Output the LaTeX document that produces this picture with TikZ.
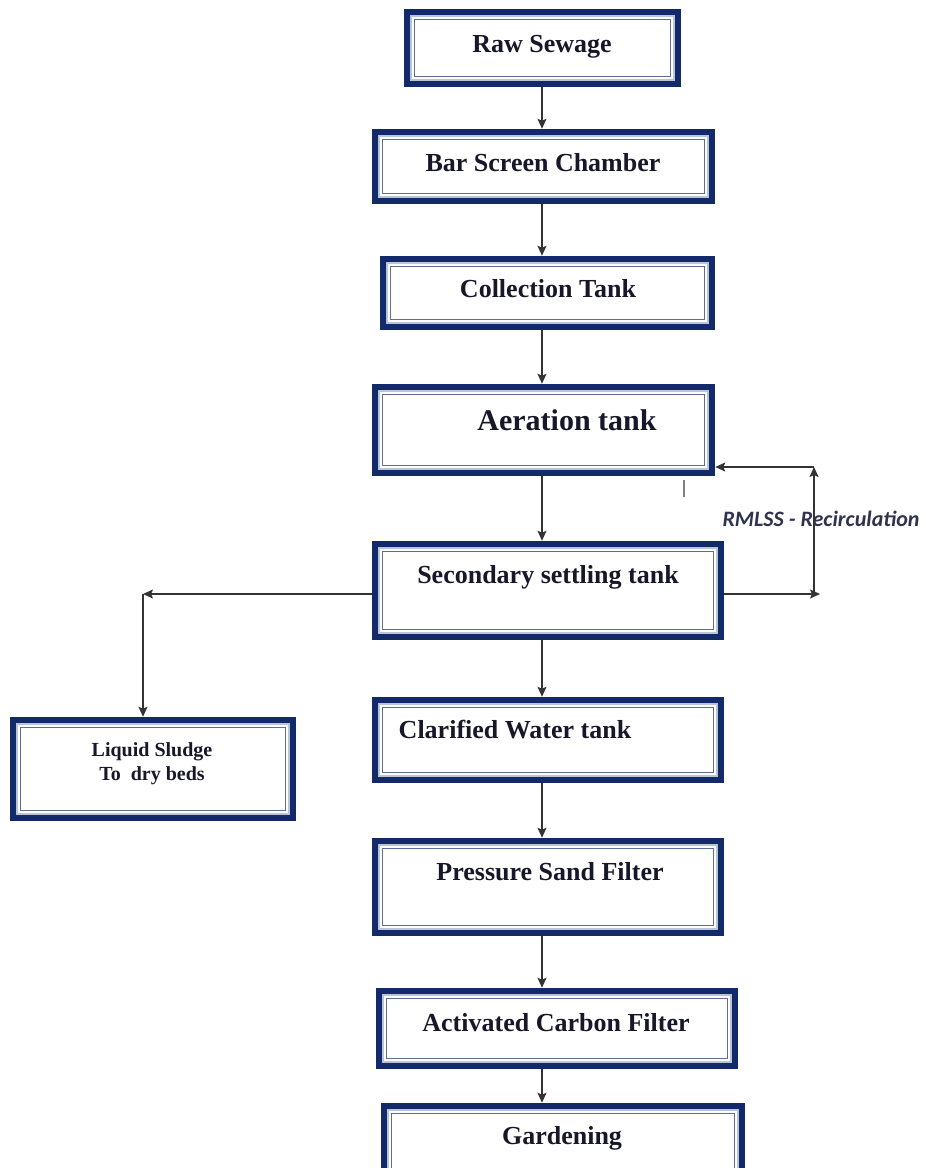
\documentclass[tikz,border=0pt]{standalone}
\usepackage{fontspec}
\setmainfont{Liberation Serif}
\newfontfamily\lblfont{Carlito}
\usetikzlibrary{arrows.meta}
\definecolor{navy}{HTML}{12296A}
\definecolor{paleb}{HTML}{B9C3DA}
\definecolor{innerb}{HTML}{5E6E99}
\definecolor{txt}{HTML}{17172A}
\definecolor{lbl}{HTML}{2F3350}
\definecolor{wire}{HTML}{333333}
\tikzset{
  flowbox/.style={draw=navy, line width=6.5pt, fill=white, inner sep=0pt, outer sep=3.25pt,
    path picture={
      \draw[paleb, line width=1.6pt] ([shift={(4.2pt,-4.2pt)}]path picture bounding box.north west) rectangle ([shift={(-4.2pt,4.2pt)}]path picture bounding box.south east);
      \draw[innerb, line width=1.5pt] ([shift={(7.5pt,-7.5pt)}]path picture bounding box.north west) rectangle ([shift={(-7.5pt,7.5pt)}]path picture bounding box.south east);
    }},
  boxtext/.style={anchor=base, text=txt, inner sep=0pt, font=\bfseries\fontsize{26}{30}\selectfont},
  arr/.style={draw=wire, line width=1.4pt, -{Stealth[length=10pt,width=9pt,inset=2pt]}},
}
\begin{document}
\begin{tikzpicture}[x=1pt,y=-1pt]
\useasboundingbox (0,0) rectangle (926,1168);
\fill[white] (0,0) rectangle (926,1168);
% axis for vertical arrows
\coordinate (ax) at (542,0);
% boxes
\node[flowbox, minimum width=271pt, minimum height=72pt] (raw) at (542.5,48) {};
\node[flowbox, minimum width=337pt, minimum height=69pt] (bar) at (543.5,166.5) {};
\node[flowbox, minimum width=329pt, minimum height=68pt] (coll) at (547.5,293) {};
\node[flowbox, minimum width=337pt, minimum height=86pt] (aer) at (543.5,430) {};
\node[flowbox, minimum width=346pt, minimum height=93pt] (sec) at (548,590.5) {};
\node[flowbox, minimum width=346pt, minimum height=80pt] (clar) at (548,740) {};
\node[flowbox, minimum width=346pt, minimum height=92pt] (psf) at (548,887) {};
\node[flowbox, minimum width=356pt, minimum height=75pt] (acf) at (557,1028.5) {};
\node[flowbox, minimum width=358pt, minimum height=81pt] (gard) at (563,1146.5) {};
\node[flowbox, minimum width=280pt, minimum height=98pt] (sludge) at (153,769) {};
% texts
\node[boxtext] (traw) at (542,52) {Raw Sewage};
\node[boxtext] (tbar) at (543,171) {Bar Screen Chamber};
\node[boxtext] (tcoll) at (548,297) {Collection Tank};
\node[boxtext, font=\bfseries\fontsize{30}{34}\selectfont] (taer) at (567,430) {Aeration tank};
\node[boxtext] (tsec) at (548,583) {Secondary settling tank};
\node[boxtext] (tclar) at (515,738) {Clarified Water tank};
\node[boxtext] (tpsf) at (550,880) {Pressure Sand Filter};
\node[boxtext] (tacf) at (556,1031) {Activated Carbon Filter};
\node[boxtext] (tgard) at (562,1144) {Gardening};
\node[boxtext, font=\bfseries\fontsize{20}{24}\selectfont] (tsl1) at (152,756) {Liquid Sludge};
\node[boxtext, font=\bfseries\fontsize{20}{24}\selectfont] (tsl2) at (152,780) {To\ \ dry beds};
\node[anchor=base, inner sep=0pt, text=lbl, font=\lblfont\bfseries\itshape\fontsize{22}{26}\selectfont] (rml) at (821,526) {RMLSS - Recirculation};
% main vertical arrows
\draw[arr] (raw.south -| ax) -- (bar.north -| ax);
\draw[arr] (bar.south -| ax) -- (coll.north -| ax);
\draw[arr] (coll.south -| ax) -- (aer.north -| ax);
\draw[arr] (aer.south -| ax) -- (sec.north -| ax);
\draw[arr] (sec.south -| ax) -- (clar.north -| ax);
\draw[arr] (clar.south -| ax) -- (psf.north -| ax);
\draw[arr] (psf.south -| ax) -- (acf.north -| ax);
\draw[arr] (acf.south -| ax) -- (gard.north -| ax);
% recirculation
\coordinate (r1) at (820,594);
\coordinate (r2) at (814,594);
\coordinate (r3) at (814,467);
\draw[arr] (sec.east |- r1) -- (r1);
\draw[arr] (r2) -- (r3);
\draw[arr] (r3) -- (aer.east |- r3);
\coordinate (tk1) at (684,480);
\coordinate (tk2) at (684,497);
\draw[draw=gray, line width=1.5pt] (tk1) -- (tk2);
% sludge branch
\coordinate (s1) at (143,594);
\draw[arr] (sec.west |- s1) -- (s1);
\draw[arr] (s1) -- (sludge.north -| s1);
\end{tikzpicture}
\end{document}
